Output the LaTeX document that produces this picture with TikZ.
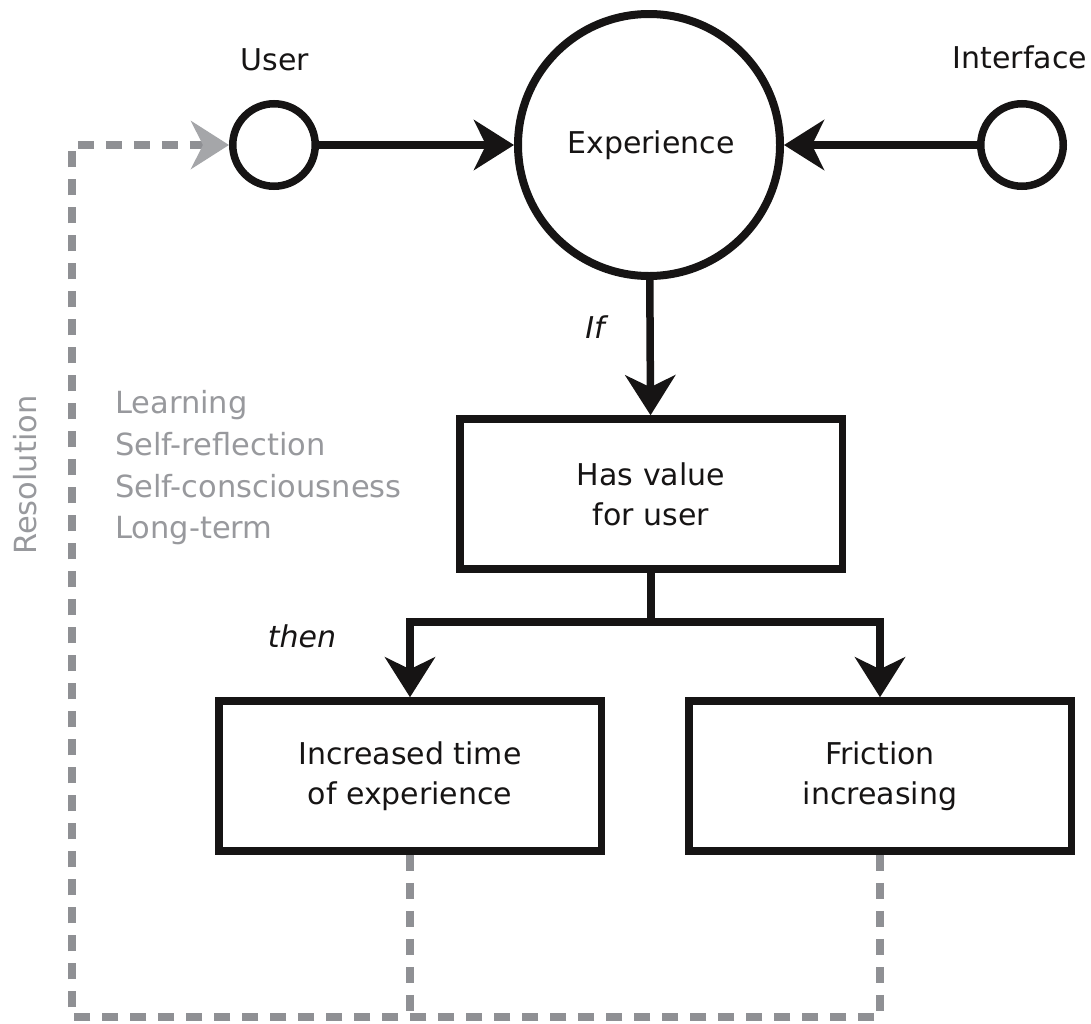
\documentclass[tikz,border=0pt]{standalone}
\usepackage{fontspec}
\setmainfont{DejaVu Sans}
\usetikzlibrary{arrows.meta}
\definecolor{ink}{RGB}{22,20,20}
\definecolor{dashgray}{RGB}{143,144,148}
\definecolor{tipgray}{RGB}{165,166,169}
\definecolor{notegray}{RGB}{152,153,157}

\begin{document}
\begin{tikzpicture}[x=1pt,y=-1pt,
  font=\fontsize{30}{40}\selectfont,
  flow/.style={draw=ink, line width=7.5pt},
  bigtip/.style={-{Stealth[length=40pt,width=50pt,inset=12pt]}},
  agent/.style={circle, draw=ink, line width=7.5pt, minimum size=82.5pt, inner sep=0pt},
  hub/.style={circle, draw=ink, line width=8pt, minimum size=262pt, inner sep=0pt},
  stepbox/.style={rectangle, draw=ink, line width=7.5pt, minimum width=382.5pt,
    minimum height=150pt, align=center, inner sep=0pt, text=ink},
  caption/.style={text=ink, inner sep=0pt},
  cue/.style={text=ink, inner sep=0pt, font=\fontsize{30}{40}\selectfont\itshape},
  loopline/.style={draw=dashgray, line width=7.5pt, dash pattern=on 16pt off 12pt},
  note/.style={text=notegray, inner sep=0pt, font=\fontsize{30.5}{41.7}\selectfont}
]
\useasboundingbox (0,0) rectangle (1091,1023);

% actors and the shared experience
\node[agent] (user) at (274,145) {};
\node[agent] (iface) at (1022,145) {};
\node[hub] (exp) at (649,145) {};
\node[caption, anchor=base] (explbl) at (651,153) {Experience};
\node[caption, anchor=base] (userlbl) at (275,70) {User};
\node[caption, anchor=base] (ifacelbl) at (1020,68) {Interface};

% outcome boxes
\node[stepbox] (value) at (651,494) {Has value\\for user};
\node[stepbox] (time) at (410,776) {Increased time\\of experience};
\node[stepbox] (fric) at (880,776) {Friction\\increasing};

% inputs into the experience
\draw[flow, bigtip] (user) -- (exp);
\draw[flow, bigtip] (iface) -- (exp);

% condition and consequences
\draw[flow, bigtip] (exp) -- (value);
\node[cue, anchor=base] (iflbl) at (595,338) {If};
\coordinate (split) at (651,622);
\draw[flow] (value) -- (split);
\draw[flow, bigtip] (split) -| (time);
\draw[flow, bigtip] (split) -| (fric);
\node[cue, anchor=base] (thenlbl) at (302,647) {then};

% feedback loop back to the user
\coordinate (br) at (880,1017);
\coordinate (bl) at (72,1017);
\coordinate (tl) at (72,145);
\draw[loopline, -{Stealth[length=38pt,width=48pt,inset=12pt,color=tipgray]}]
  (fric.south) -- (br) -- (bl) -- (tl) -- (user.west);
\draw[loopline] (time.south) -- (time.south |- bl);

\node[note, rotate=90] (reso) at (25,475) {Resolution};
\node[note, anchor=west, align=left] (traits) at (115,468)
  {Learning\\Self-reflection\\Self-consciousness\\Long-term};
\end{tikzpicture}
\end{document}
